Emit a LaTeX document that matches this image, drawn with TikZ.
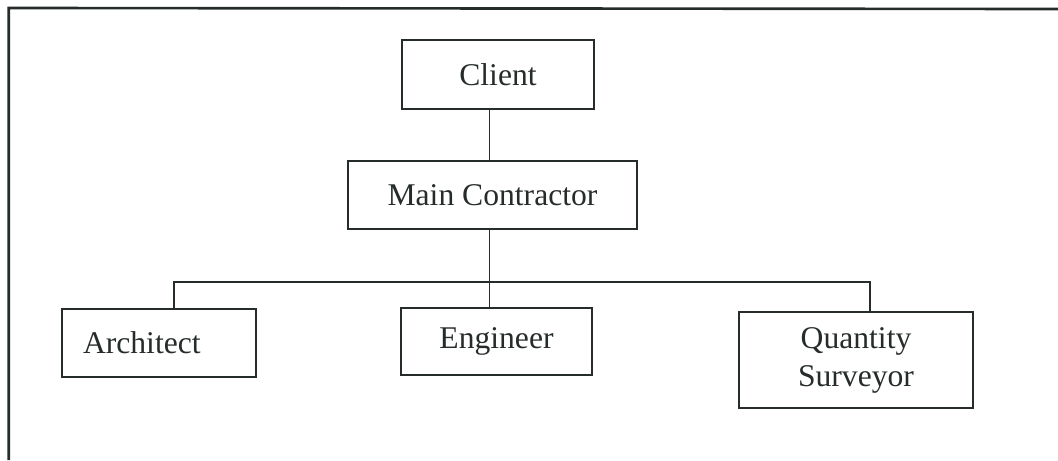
\documentclass[tikz,border=0pt]{standalone}
\usepackage{fontspec}
\setmainfont{Liberation Serif}
\definecolor{ink}{RGB}{38,44,42}

\begin{document}
\begin{tikzpicture}[x=0.02cm, y=-0.02cm, color=ink, line width=1.1pt]
\tikzset{box/.style={draw, rectangle, inner sep=0pt, font=\fontsize{18}{21.6}\selectfont}}
    \useasboundingbox (0,0) rectangle (1058,460);
    \draw[line width=1.5pt] (8.7,460) -- (8.7,8) -- (1058,9);
    \node[box, minimum width=3.84cm, minimum height=1.38cm] (1) at (498,74.5) {Client};
    \node[box, minimum width=5.78cm, minimum height=1.36cm] (2) at (492.5,195) {Main Contractor};
    \node[box, minimum width=3.88cm, minimum height=1.36cm, text width=3.04cm, align=left] (3) at (159,343) {Architect};
    \node[box, minimum width=3.82cm, minimum height=1.34cm] (4) at (496.5,341.5) {Engineer};
    \node[box, minimum width=4.68cm, minimum height=1.92cm, align=center] (5) at (856,360) {Quantity\\Surveyor};
    \coordinate (6) at (489.5,282);
    \coordinate (7) at (174,282);
    \coordinate (8) at (870,282);
    \draw (1.south -| 6) -- (2.north -| 6);
    \draw (2.south -| 6) -- (4.north -| 6);
    \draw (3.north -| 7) -- (7) -- (8) -- (5.north -| 8);
\end{tikzpicture}
\end{document}
